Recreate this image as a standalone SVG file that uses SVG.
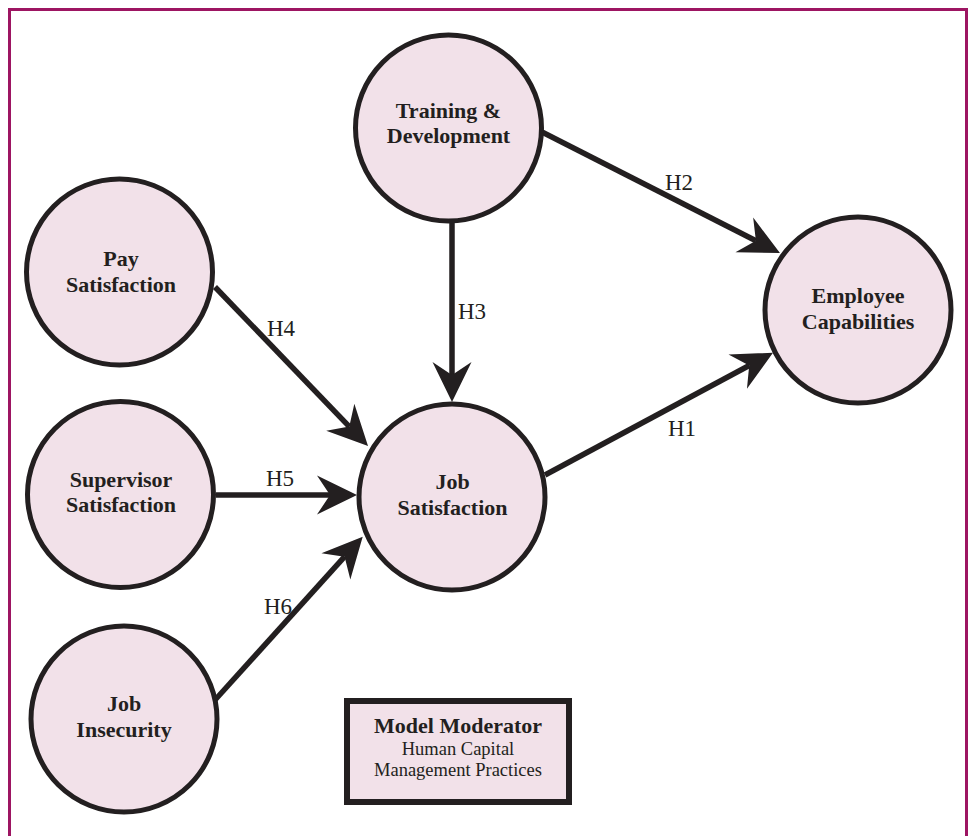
<svg xmlns="http://www.w3.org/2000/svg" width="969" height="836" viewBox="0 0 969 836">
<style>
.node{fill:#F2E1E9;stroke:#231F20;stroke-width:5}
.lbl{font-family:"Liberation Serif","Times New Roman",serif;font-weight:bold;font-size:22px;fill:#231F20;text-anchor:middle}
.h{font-family:"Liberation Serif","Times New Roman",serif;font-size:23px;fill:#231F20}
.edge{stroke:#231F20;stroke-width:5.5;fill:none;marker-end:url(#arr)}
.sub{font-family:"Liberation Serif","Times New Roman",serif;font-size:18.5px;fill:#231F20;text-anchor:middle}
</style>
<defs>
<marker id="arr" markerUnits="userSpaceOnUse" viewBox="-45 -25 50 50" markerWidth="50" markerHeight="50" refX="-27" refY="0" orient="auto" overflow="visible">
<path d="M0,0 L-40,-19.5 L-27,0 L-40,19.5 Z" fill="#231F20"/>
</marker>
</defs>
<rect width="969" height="836" fill="#ffffff"/>
<rect x="9.5" y="9.5" width="957" height="845" fill="none" stroke="#9D1562" stroke-width="3"/>
<g id="connectors">
<line class="edge" x1="542" y1="132" x2="755.9" y2="240.8"/>
<line class="edge" x1="545" y1="475" x2="749.2" y2="365.5"/>
<line class="edge" x1="452" y1="223" x2="452" y2="375"/>
<line class="edge" x1="215" y1="287" x2="349.3" y2="426.6"/>
<line class="edge" x1="216" y1="495" x2="330" y2="495"/>
<line class="edge" x1="215" y1="700" x2="344.6" y2="556.7"/>
<text class="h" x="665" y="190">H2</text>
<text class="h" x="668" y="436">H1</text>
<text class="h" x="458" y="319">H3</text>
<text class="h" x="267" y="336">H4</text>
<text class="h" x="266" y="486">H5</text>
<text class="h" x="264" y="614">H6</text>
</g>
<g id="training">
<circle class="node" cx="448.5" cy="128" r="93"/>
<text class="lbl" x="448.5" y="118">Training &amp;</text>
<text class="lbl" x="448.5" y="143">Development</text>
</g>
<g id="employee">
<circle class="node" cx="858" cy="310" r="93"/>
<text class="lbl" x="858" y="303">Employee</text>
<text class="lbl" x="858" y="329">Capabilities</text>
</g>
<g id="pay">
<circle class="node" cx="119.5" cy="272" r="93"/>
<text class="lbl" x="121" y="266">Pay</text>
<text class="lbl" x="121" y="292">Satisfaction</text>
</g>
<g id="supervisor">
<circle class="node" cx="120.5" cy="494.5" r="93"/>
<text class="lbl" x="121" y="487">Supervisor</text>
<text class="lbl" x="121" y="512">Satisfaction</text>
</g>
<g id="insecurity">
<circle class="node" cx="124" cy="719" r="93"/>
<text class="lbl" x="124" y="711">Job</text>
<text class="lbl" x="124" y="737">Insecurity</text>
</g>
<g id="jobsat">
<circle class="node" cx="452" cy="497" r="93"/>
<text class="lbl" x="452.5" y="489">Job</text>
<text class="lbl" x="452.5" y="515">Satisfaction</text>
</g>
<g id="moderator">
<rect x="347" y="701" width="222" height="101" fill="#F2E1E9" stroke="#231F20" stroke-width="6"/>
<text class="lbl" x="458" y="733">Model Moderator</text>
<text class="sub" x="458" y="755">Human Capital</text>
<text class="sub" x="458" y="776">Management Practices</text>
</g>
</svg>
